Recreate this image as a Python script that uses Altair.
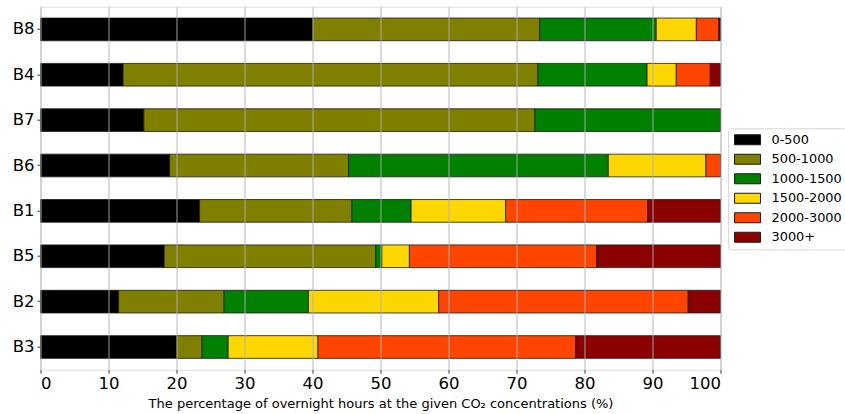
import altair as alt
import pandas as pd

# Buildings, listed top to bottom
buildings = ["B8", "B4", "B7", "B6", "B1", "B5", "B2", "B3"]

# CO2 concentration bands (ppm) and their colours
bands = ["0-500", "500-1000", "1000-1500", "1500-2000", "2000-3000", "3000+"]
band_colors = ["#000000", "#808000", "#008000", "#FFD700", "#FF4500", "#8B0000"]

# Share of overnight hours (%) in each band, per building
share_0_500 = [40.0, 12.15, 15.2, 19.0, 23.4, 18.2, 11.5, 20.0]
share_500_1000 = [33.4, 61.0, 57.5, 26.3, 22.4, 31.1, 15.5, 3.75]
share_1000_1500 = [17.15, 16.05, 27.3, 38.2, 8.7, 0.9, 12.4, 3.85]
share_1500_2000 = [5.9, 4.3, 0.0, 14.35, 13.9, 4.05, 19.15, 13.2]
share_2000_3000 = [3.3, 5.0, 0.0, 2.15, 20.9, 27.55, 36.7, 37.9]
share_3000_plus = [0.25, 1.5, 0.0, 0.0, 10.7, 18.2, 4.75, 21.3]

series = [share_0_500, share_500_1000, share_1000_1500,
          share_1500_2000, share_2000_3000, share_3000_plus]

rows = []
for b_idx, band in enumerate(bands):
    for i, bld in enumerate(buildings):
        v = series[b_idx][i]
        if v > 0:
            rows.append({"building": bld, "band": band, "order": b_idx, "share": v})
df = pd.DataFrame(rows)

FONT = "DejaVu Sans"

bars = alt.Chart(df).mark_bar(stroke="#1a1a1a", strokeWidth=0.8, opacity=1).encode(
    x=alt.X(
        "share:Q",
        stack="zero",
        scale=alt.Scale(domain=[0, 100], nice=False, zero=True),
        axis=alt.Axis(
            values=list(range(0, 101, 10)),
            title="The percentage of overnight hours at the given CO\u2082 concentrations (%)",
            titleFont=FONT,
            titleFontSize=13,
            titleFontWeight="normal",
            titleColor="#000000",
            titlePadding=5.5,
            labelFont=FONT,
            labelFontSize=16.5,
            labelColor="#000000",
            labelPadding=2,
            tickSize=3.5,
            tickColor="#333333",
            grid=True,
            gridColor="#b0b0b0",
            gridWidth=0.9,
            domain=False,
            zindex=1,
        ),
    ),
    y=alt.Y(
        "building:N",
        sort=buildings,
        scale=alt.Scale(paddingInner=0.5, paddingOuter=0.25),
        axis=alt.Axis(
            title=None,
            labelFont=FONT,
            labelFontSize=16.5,
            labelColor="#000000",
            labelPadding=3,
            tickSize=3.5,
            tickColor="#333333",
            grid=False,
            domain=False,
        ),
    ),
    color=alt.Color(
        "band:N",
        scale=alt.Scale(domain=bands, range=band_colors),
        legend=alt.Legend(
            title=None,
            orient="none",
            legendX=687.6,
            legendY=121.6,
            labelFont=FONT,
            labelFontSize=12.9,
            labelColor="#000000",
            symbolType="M-1,-1H4.2V1H-1Z",
            symbolSize=100,
            symbolStrokeColor="#1a1a1a",
            symbolStrokeWidth=1,
            symbolOpacity=1,
            labelOffset=25.5,
            rowPadding=4.5,
            padding=5,
            fillColor="#ffffff",
            strokeColor="#d5d5d5",
            cornerRadius=3,
        ),
    ),
    order=alt.Order("order:Q", sort="ascending"),
)

chart = bars.properties(
    width=680,
    height=363,
    autosize=alt.AutoSizeParams(type="none"),
    padding={"left": 40.5, "top": 6.7, "right": 124.5, "bottom": 44.3},
).configure_view(
    stroke="#444444",
    strokeWidth=1,
).configure(
    background="#ffffff",
)

chart.save("out.html", embed_options={"renderer": "svg", "actions": False})
